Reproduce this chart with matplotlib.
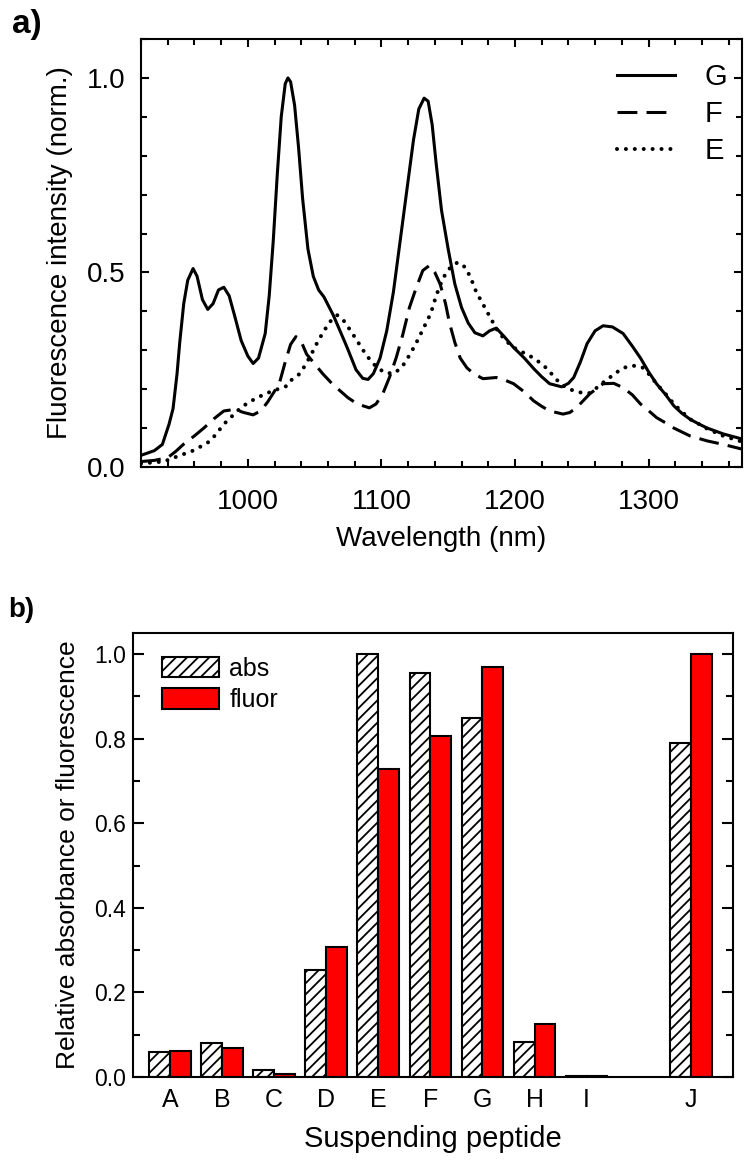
import numpy as np
import matplotlib
matplotlib.use("Agg")
import matplotlib.pyplot as plt
from matplotlib.ticker import MultipleLocator

plt.rcParams['font.family'] = ['Liberation Sans', 'DejaVu Sans']
plt.rcParams['hatch.linewidth'] = 1.3

# ---------------- panel a data ----------------
wl_G = [920, 930, 936, 941, 944, 947, 949, 952, 955, 959, 962, 966, 970, 974, 978, 982, 986, 990, 995,
        1000, 1004, 1008, 1013, 1016, 1019, 1022, 1025, 1028, 1030, 1032, 1035, 1038, 1041, 1045, 1049,
        1053, 1057, 1064, 1069, 1074, 1081, 1086, 1090, 1094, 1099, 1104, 1109, 1114, 1119, 1124, 1128,
        1132, 1135, 1138, 1141, 1145, 1150, 1155, 1160, 1165, 1170, 1176, 1181, 1186, 1192, 1199, 1207,
        1214, 1220, 1226, 1235, 1240, 1244, 1249, 1254, 1260, 1266, 1273, 1281, 1288, 1294, 1300, 1306,
        1313, 1319, 1325, 1331, 1338, 1344, 1356, 1370]
int_G = [0.030, 0.042, 0.058, 0.11, 0.15, 0.24, 0.32, 0.42, 0.48, 0.51, 0.49, 0.43, 0.405, 0.42, 0.455,
         0.462, 0.44, 0.39, 0.325, 0.285, 0.266, 0.28, 0.343, 0.44, 0.58, 0.75, 0.90, 0.985, 1.0, 0.99,
         0.93, 0.82, 0.69, 0.56, 0.49, 0.455, 0.437, 0.39, 0.35, 0.31, 0.25, 0.228, 0.225, 0.24, 0.28,
         0.35, 0.45, 0.58, 0.71, 0.84, 0.92, 0.948, 0.94, 0.88, 0.78, 0.66, 0.56, 0.47, 0.41, 0.37, 0.345,
         0.337, 0.35, 0.357, 0.335, 0.307, 0.28, 0.253, 0.232, 0.214, 0.206, 0.215, 0.23, 0.27, 0.317,
         0.35, 0.363, 0.36, 0.343, 0.31, 0.28, 0.245, 0.214, 0.185, 0.157, 0.138, 0.123, 0.11, 0.10,
         0.085, 0.072]

wl_F = [920, 930, 940, 946, 952, 960, 967, 975, 982, 990, 997, 1004, 1010, 1015, 1020, 1024, 1028, 1032,
        1036, 1040, 1044, 1050, 1056, 1062, 1069, 1075, 1082, 1091, 1096, 1101, 1106, 1111, 1116, 1121,
        1126, 1131, 1136, 1140, 1144, 1148, 1151, 1155, 1159, 1164, 1169, 1176, 1186, 1192, 1199, 1207,
        1214, 1220, 1226, 1236, 1241, 1246, 1251, 1256, 1266, 1274, 1281, 1288, 1294, 1300, 1306, 1313,
        1319, 1331, 1344, 1356, 1370]
int_F = [0.014, 0.017, 0.024, 0.04, 0.059, 0.08, 0.10, 0.125, 0.144, 0.148, 0.14, 0.134, 0.145, 0.168,
         0.195, 0.22, 0.27, 0.315, 0.335, 0.322, 0.29, 0.265, 0.24, 0.218, 0.196, 0.178, 0.162, 0.152,
         0.162, 0.188, 0.23, 0.28, 0.34, 0.41, 0.46, 0.505, 0.518, 0.50, 0.47, 0.42, 0.37, 0.32, 0.28,
         0.255, 0.24, 0.227, 0.23, 0.224, 0.214, 0.193, 0.17, 0.156, 0.144, 0.136, 0.14, 0.152, 0.17,
         0.188, 0.214, 0.215, 0.204, 0.185, 0.162, 0.145, 0.127, 0.113, 0.10, 0.08, 0.067, 0.058, 0.046]

wl_E = [920, 937, 944, 951, 959, 966, 972, 977, 982, 988, 994, 1000, 1007, 1013, 1019, 1025, 1029, 1032,
        1036, 1039, 1043, 1047, 1052, 1057, 1062, 1067, 1072, 1077, 1083, 1089, 1095, 1102, 1109, 1113,
        1117, 1122, 1127, 1132, 1137, 1141, 1146, 1151, 1157, 1163, 1167, 1171, 1175, 1179, 1183, 1187,
        1193, 1199, 1205, 1211, 1218, 1224, 1229, 1234, 1239, 1244, 1251, 1256, 1261, 1266, 1271, 1276,
        1281, 1286, 1291, 1296, 1301, 1306, 1313, 1319, 1325, 1331, 1338, 1344, 1356, 1370]
int_E = [0.009, 0.014, 0.023, 0.032, 0.042, 0.055, 0.067, 0.088, 0.11, 0.13, 0.15, 0.165, 0.178, 0.188,
         0.196, 0.203, 0.208, 0.222, 0.232, 0.24, 0.262, 0.286, 0.32, 0.35, 0.375, 0.39, 0.375, 0.35,
         0.318, 0.286, 0.262, 0.243, 0.24, 0.25, 0.265, 0.293, 0.325, 0.36, 0.395, 0.44, 0.485, 0.51,
         0.526, 0.513, 0.485, 0.45, 0.425, 0.40, 0.375, 0.35, 0.325, 0.307, 0.296, 0.286, 0.27, 0.253,
         0.233, 0.214, 0.203, 0.196, 0.19, 0.19, 0.203, 0.217, 0.23, 0.243, 0.254, 0.26, 0.26, 0.255,
         0.236, 0.214, 0.187, 0.162, 0.142, 0.123, 0.11, 0.098, 0.08, 0.065]

# ---------------- panel b data ----------------
peptides = ['A', 'B', 'C', 'D', 'E', 'F', 'G', 'H', 'I', 'J']
positions = [0, 1, 2, 3, 4, 5, 6, 7, 8, 10]
abs_vals = [0.059, 0.080, 0.016, 0.253, 1.0, 0.955, 0.849, 0.083, 0.003, 0.79]
fluor_vals = [0.061, 0.068, 0.008, 0.307, 0.728, 0.806, 0.969, 0.125, 0.003, 1.0]

W, H = 750, 1163
fig = plt.figure(figsize=(W / 100, H / 100), dpi=100)

def rect(l, t, r, b):
    return [l / W, 1 - b / H, (r - l) / W, (b - t) / H]

# ---------------- panel a ----------------
ax1 = fig.add_axes(rect(141, 39, 742, 467))
ax1.plot(wl_G, int_G, color='black', lw=2.2, label='G')
ax1.plot(wl_F, int_F, color='black', lw=2.2, linestyle=(0, (6.5, 3.0)), label='F')
ax1.plot(wl_E, int_E, color='black', lw=2.9, linestyle=(0, (0.01, 2.2)),
         dash_capstyle='round', label='E')
ax1.set_xlim(920, 1370)
ax1.set_ylim(0, 1.1)
ax1.xaxis.set_major_locator(MultipleLocator(100))
ax1.xaxis.set_minor_locator(MultipleLocator(20))
ax1.yaxis.set_major_locator(MultipleLocator(0.5))
ax1.yaxis.set_minor_locator(MultipleLocator(0.1))
ax1.tick_params(which='both', direction='in', top=True, right=True, width=1.5, labelsize=20)
ax1.tick_params(which='major', length=6, pad=11)
ax1.tick_params(which='minor', length=4.5)
ax1.tick_params(axis='x', which='major', pad=16)
for s in ax1.spines.values():
    s.set_linewidth(1.5)
ax1.set_xlabel('Wavelength (nm)', fontsize=20, labelpad=8)
ax1.set_ylabel('Fluorescence intensity (norm.)', fontsize=20, labelpad=10)
leg1 = ax1.legend(loc='upper right', bbox_to_anchor=(0.975, 0.943), frameon=False, fontsize=21,
                  handlelength=2.0, handletextpad=1.0, labelspacing=0.3, borderpad=0,
                  borderaxespad=0)
fig.text(12 / W, 1 - 33 / H, 'a)', fontsize=24, fontweight='bold', ha='left', va='baseline')

# ---------------- panel b ----------------
ax2 = fig.add_axes(rect(133, 633, 733, 1077))
pos = np.array(positions, dtype=float)
ax2.bar(pos - 0.2, abs_vals, 0.4, facecolor='white', edgecolor='black', hatch='///',
        linewidth=1.5, label='abs')
ax2.bar(pos + 0.2, fluor_vals, 0.4, facecolor='#ff0000', edgecolor='black',
        linewidth=1.5, label='fluor')
ax2.set_xlim(-0.71, 10.81)
ax2.set_ylim(0, 1.05)
ax2.set_xticks(positions)
ax2.set_xticklabels(peptides)
ax2.yaxis.set_major_locator(MultipleLocator(0.2))
ax2.yaxis.set_minor_locator(MultipleLocator(0.1))
ax2.yaxis.set_major_formatter(matplotlib.ticker.FormatStrFormatter('%.1f'))
ax2.tick_params(axis='y', which='both', direction='in', left=True, right=True, width=1.5,
                labelsize=16.5)
ax2.tick_params(axis='y', which='major', length=8, pad=5)
ax2.tick_params(axis='y', which='minor', length=5)
ax2.tick_params(axis='x', which='both', length=0, labelsize=18, pad=8)
for s in ax2.spines.values():
    s.set_linewidth(1.5)
ax2.set_xlabel('Suspending peptide', fontsize=21, labelpad=9)
ax2.set_ylabel('Relative absorbance or fluorescence', fontsize=19, labelpad=10)
ax2.legend(loc='upper left', bbox_to_anchor=(0.048, 0.947), frameon=False, fontsize=18,
           handlelength=2.3, handleheight=0.9, handletextpad=0.4, labelspacing=0.3,
           borderpad=0, borderaxespad=0)
fig.text(8 / W, 1 - 617 / H, 'b)', fontsize=20, fontweight='bold', ha='left', va='baseline')

fig.savefig('out.png', dpi=100)
